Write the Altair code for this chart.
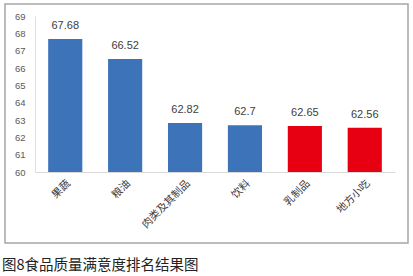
import altair as alt
import pandas as pd

categories = ["果蔬", "粮油", "肉类及其制品", "饮料", "乳制品", "地方小吃"]
values = [67.68, 66.52, 62.82, 62.7, 62.65, 62.56]
value_labels = ["67.68", "66.52", "62.82", "62.7", "62.65", "62.56"]
colors = ["#3C73B9", "#3C73B9", "#3C73B9", "#3C73B9", "#E60012", "#E60012"]
y_ticks = [60, 61, 62, 63, 64, 65, 66, 67, 68, 69]
caption = "图8食品质量满意度排名结果图"

df = pd.DataFrame({"cat": categories, "val": values, "lab": value_labels, "col": colors})

W, H = 360, 156
FONT = "Noto Sans CJK SC"

x = alt.X("cat:N", sort=categories, title=None,
          scale=alt.Scale(paddingInner=0.43, paddingOuter=0.22),
          axis=alt.Axis(labelAngle=315, labelFont=FONT, labelFontSize=10.5,
                        labelColor="#404040", ticks=False, domainColor="#d9d9d9",
                        labelPadding=6))
y = alt.Y("val:Q", title=None,
          scale=alt.Scale(domain=[60, 69], nice=False, zero=False),
          axis=alt.Axis(values=y_ticks, grid=False, ticks=False,
                        labelOverlap=False, labelBound=False,
                        domainColor="#e0e0e0", labelColor="#595959",
                        labelFont="Liberation Sans", labelFontSize=9.5, labelPadding=10))

base = alt.Chart(df).encode(x=x, y=y)
bars = base.mark_bar().encode(y2=alt.datum(60), color=alt.Color("col:N", scale=None))
texts = base.mark_text(dy=-13, fontSize=11, color="#404040",
                       font="Liberation Sans").encode(text="lab:N")

frame = alt.Chart(pd.DataFrame({"k": [0]})).mark_rect(
    fill=None, stroke="#a6a6a6", strokeWidth=1.5
).encode(x=alt.value(-30), x2=alt.value(373), y=alt.value(-12), y2=alt.value(227))
cap = alt.Chart(pd.DataFrame({"t": [caption]})).mark_text(
    align="left", baseline="middle", fontSize=14.5, font=FONT, color="#222222"
).encode(x=alt.value(-33), y=alt.value(250), text="t:N")

chart = alt.layer(frame, bars, texts, cap).properties(
    width=W, height=H,
    padding={"left": 35, "top": 16, "right": 18, "bottom": 104},
    autosize=alt.AutoSizeParams(type="none"),
    background="white",
).configure_view(stroke=None)

chart.save("out.html", embed_options={"renderer": "svg", "actions": False})
